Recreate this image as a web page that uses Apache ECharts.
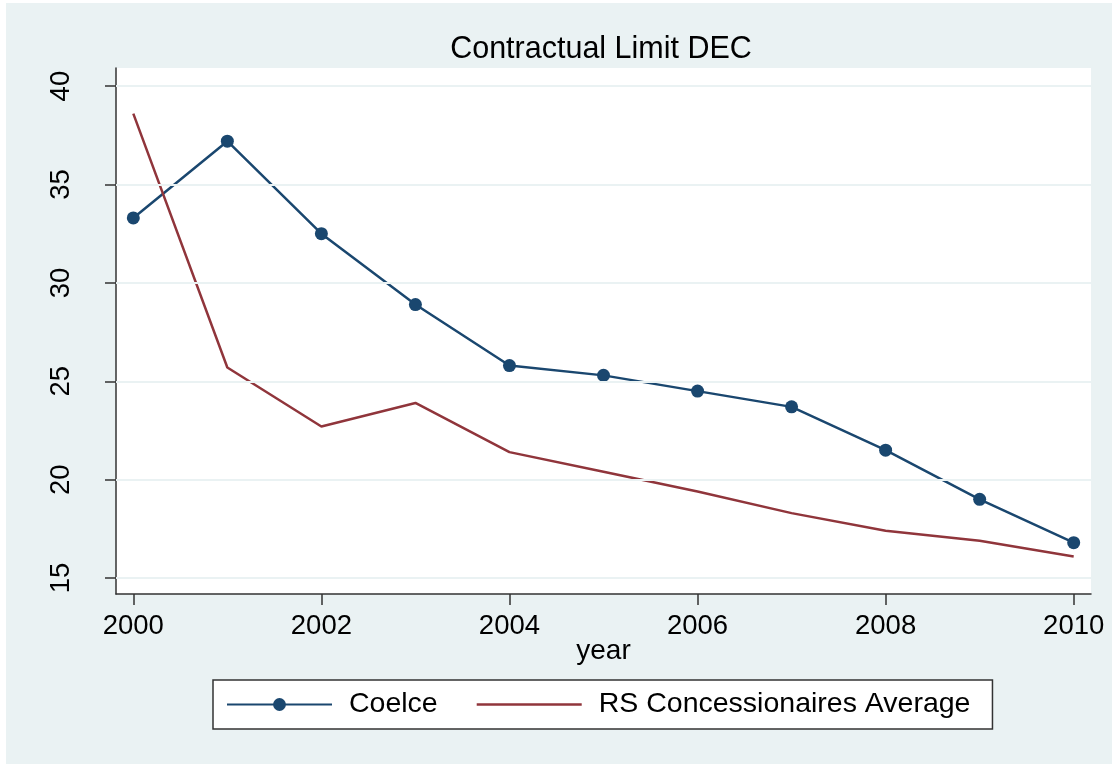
<!DOCTYPE html>
<html>
<head>
<meta charset="utf-8">
<script src="https://cdn.jsdelivr.net/npm/echarts@6/dist/echarts.min.js"></script>
<style>
  html, body { margin: 0; padding: 0; background: #ffffff; }
  #chart { position: absolute; left: 6px; top: 3px; width: 1106px; height: 761px; }
</style>
</head>
<body>
<div id="chart"></div>
<script>
// ---- data ----
const years = [2000, 2001, 2002, 2003, 2004, 2005, 2006, 2007, 2008, 2009, 2010];
const coelce = [33.3, 37.2, 32.5, 28.9, 25.8, 25.3, 24.5, 23.7, 21.5, 19.0, 16.8];
const rsAverage = [38.6, 25.7, 22.7, 23.9, 21.4, 20.4, 19.4, 18.3, 17.4, 16.9, 16.1];
const xTicks = [2000, 2002, 2004, 2006, 2008, 2010];
const yTicks = [15, 20, 25, 30, 35, 40];
const seriesNames = ['Coelce', 'RS Concessionaires Average'];

const FONT = 'Liberation Sans, Arial, Helvetica, sans-serif';
const chart = echarts.init(document.getElementById('chart'), null, { renderer: 'canvas' });

const option = {
  backgroundColor: '#EAF2F3',
  animation: false,
  title: {
    text: 'Contractual Limit DEC',
    left: 590,
    textAlign: 'center',
    top: 26,
    textStyle: { fontFamily: FONT, fontSize: 30.5, fontWeight: 'normal', color: '#000' }
  },
  grid: {
    left: 110, right: 21, top: 65, bottom: 170,
    show: true, backgroundColor: '#ffffff', borderWidth: 0
  },
  legend: {
    data: [
      { name: seriesNames[0] },
      { name: seriesNames[1], icon: 'path://M0,0 L105,0 L105,2.5 L0,2.5 Z' }
    ],
    left: 207, top: 677,
    orient: 'horizontal',
    backgroundColor: '#ffffff',
    borderColor: '#333333', borderWidth: 1.5,
    padding: [10, 22, 10, 13],
    itemWidth: 105, itemHeight: 16, itemGap: 39,
    textStyle: { fontFamily: FONT, fontSize: 28.5, color: '#000', padding: [0, 0, 0, 12] }
  },
  xAxis: {
    type: 'value',
    min: 2000 - 0.184, max: 2010 + 0.184,
    name: 'year', nameLocation: 'middle', nameGap: 43, nameMoveOverlap: false,
    nameTextStyle: { fontFamily: FONT, fontSize: 28, color: '#000' },
    axisLine: { show: true, lineStyle: { color: '#333333', width: 1.5 } },
    axisTick: { show: true, length: 11, customValues: xTicks, lineStyle: { color: '#333333', width: 1.5 } },
    axisLabel: { customValues: xTicks, margin: 18, fontFamily: FONT, fontSize: 27.5, color: '#000', formatter: v => String(v) },
    splitLine: { show: false }
  },
  yAxis: {
    type: 'value',
    min: 15 - 0.81, max: 40 + 0.92,
    axisLine: { show: true, lineStyle: { color: '#333333', width: 1.5 } },
    axisTick: { show: true, length: 11, customValues: yTicks, lineStyle: { color: '#333333', width: 1.5 } },
    axisLabel: { customValues: yTicks, rotate: 90, margin: 41, fontFamily: FONT, fontSize: 27.5, color: '#000' },
    splitLine: { show: false }
  },
  series: [
    {
      name: '__grid',
      type: 'line',
      data: [],
      silent: true,
      z: 1,
      markLine: {
        silent: true,
        symbol: ['none', 'none'],
        label: { show: false },
        lineStyle: { color: '#EAF2F3', width: 2, type: 'solid' },
        emphasis: { disabled: true },
        data: yTicks.map(v => ({ yAxis: v }))
      }
    },
    {
      name: seriesNames[0],
      type: 'line',
      z: 3,
      data: years.map((y, i) => [y, coelce[i]]),
      symbol: 'circle',
      symbolSize: 13,
      color: '#1A476F',
      itemStyle: { color: '#1A476F' },
      lineStyle: { color: '#1A476F', width: 2.5 }
    },
    {
      name: seriesNames[1],
      type: 'line',
      z: 3,
      data: years.map((y, i) => [y, rsAverage[i]]),
      symbol: 'none',
      color: '#90353B',
      itemStyle: { color: '#90353B' },
      lineStyle: { color: '#90353B', width: 2.5 }
    }
  ]
};
chart.setOption(option);
</script>
</body>
</html>
